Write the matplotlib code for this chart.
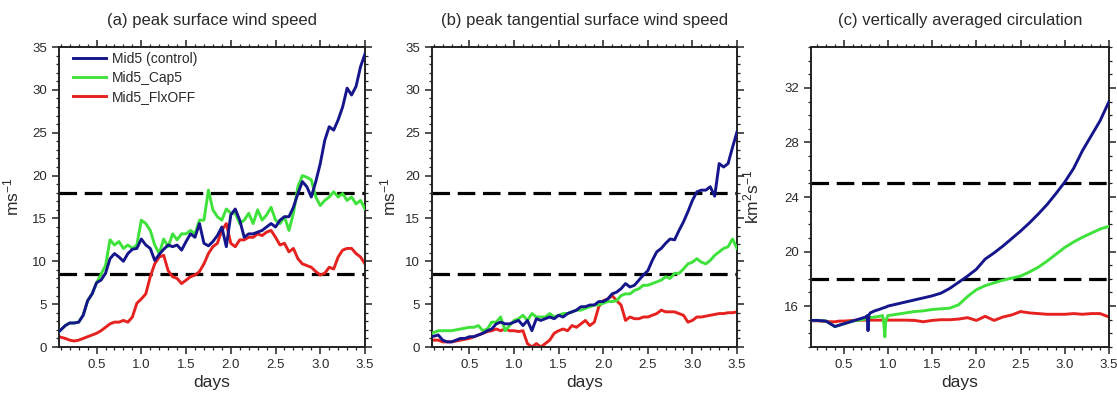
import matplotlib
matplotlib.use("Agg")
import matplotlib.pyplot as plt
from matplotlib.ticker import MultipleLocator, FormatStrFormatter

plt.rcParams['font.family'] = ['Liberation Sans', 'DejaVu Sans']
plt.rcParams['mathtext.fontset'] = 'custom'
plt.rcParams['mathtext.rm'] = 'Liberation Sans'
plt.rcParams['mathtext.it'] = 'Liberation Sans:italic'
plt.rcParams['mathtext.bf'] = 'Liberation Sans:bold'

# ---------------- data ----------------
days_ab = [0.08, 0.15, 0.2, 0.25, 0.3, 0.35, 0.4, 0.45, 0.5, 0.55, 0.6, 0.65, 0.7, 0.75,
           0.8, 0.85, 0.9, 0.95, 1.0, 1.05, 1.1, 1.15, 1.2, 1.25, 1.3, 1.35, 1.4, 1.45,
           1.5, 1.55, 1.6, 1.65, 1.7, 1.75, 1.8, 1.85, 1.9, 1.95, 2.0, 2.05, 2.1, 2.15,
           2.2, 2.25, 2.3, 2.35, 2.4, 2.45, 2.5, 2.55, 2.6, 2.65, 2.7, 2.75, 2.8, 2.85,
           2.9, 2.95, 3.0, 3.05, 3.1, 3.15, 3.2, 3.25, 3.3, 3.35, 3.4, 3.45, 3.5]

# (a) peak surface wind speed
a_control = [1.8, 2.5, 2.8, 2.8, 2.9, 3.7, 5.4, 6.2, 7.5, 7.8, 8.6, 10.3, 10.9, 10.5,
             10.0, 10.9, 11.4, 11.5, 12.6, 11.9, 11.5, 10.1, 10.8, 11.4, 11.9, 11.7, 11.9, 11.3,
             12.3, 13.2, 12.8, 14.4, 12.1, 11.8, 12.3, 13.0, 14.0, 11.7, 15.4, 16.1, 14.8, 12.8,
             13.2, 13.2, 13.4, 13.6, 14.0, 14.4, 14.0, 14.8, 15.2, 15.2, 16.3, 17.9, 19.3, 18.7,
             17.5, 19.3, 21.4, 24.1, 25.7, 25.3, 26.5, 28.0, 30.2, 29.4, 30.4, 32.7, 34.2]
a_cap5 = [1.8, 2.5, 2.8, 2.8, 2.9, 3.7, 5.4, 6.2, 7.5, 8.5, 9.5, 12.5, 11.9, 12.3,
          11.5, 11.9, 11.5, 11.9, 14.8, 14.4, 13.6, 11.9, 10.9, 12.6, 11.7, 13.2, 12.5, 13.2,
          13.2, 13.6, 13.2, 14.8, 14.8, 18.3, 16.0, 15.2, 14.8, 16.1, 15.6, 15.6, 14.4, 14.8,
          15.6, 14.4, 16.0, 14.8, 15.4, 16.3, 14.8, 14.4, 15.2, 13.6, 15.6, 18.7, 20.0, 19.8,
          19.5, 17.5, 16.5, 17.1, 17.5, 18.1, 17.5, 17.9, 17.1, 17.5, 16.7, 17.1, 16.1]
a_flxoff = [1.2, 1.0, 0.8, 0.7, 0.8, 1.0, 1.2, 1.4, 1.6, 1.9, 2.3, 2.7, 2.9, 2.9,
            3.1, 2.9, 3.5, 5.1, 5.6, 6.2, 8.2, 9.7, 10.5, 10.7, 8.9, 8.2, 8.0, 7.4,
            7.8, 8.2, 8.4, 8.8, 9.7, 10.9, 11.7, 12.1, 13.6, 14.4, 12.1, 11.7, 12.5, 12.5,
            12.8, 12.8, 13.2, 13.0, 13.4, 13.6, 12.8, 11.9, 12.1, 11.1, 11.5, 10.3, 9.7, 9.5,
            9.3, 8.8, 8.4, 8.6, 9.3, 9.1, 10.5, 11.3, 11.5, 11.5, 10.9, 10.5, 9.7]

# (b) peak tangential surface wind speed
b_control = [1.2, 1.4, 0.8, 0.6, 0.6, 0.8, 1.0, 1.0, 1.2, 1.2, 1.4, 1.6, 1.9, 2.1,
             2.7, 2.9, 2.7, 2.7, 2.9, 3.1, 2.5, 3.1, 1.9, 3.3, 3.1, 3.3, 3.5, 3.3,
             3.7, 3.5, 3.9, 4.1, 4.3, 4.7, 4.7, 4.9, 4.9, 5.3, 5.3, 5.6, 6.2, 6.4,
             6.8, 7.4, 7.0, 7.2, 7.8, 8.4, 8.9, 10.1, 11.1, 11.5, 12.1, 12.6, 12.5, 13.6,
             14.6, 15.8, 17.1, 18.1, 18.3, 18.3, 18.7, 17.6, 21.4, 21.0, 21.4, 23.3, 25.1]
b_cap5 = [1.6, 1.9, 1.9, 1.9, 1.9, 2.0, 2.1, 2.2, 2.3, 2.3, 2.5, 1.9, 2.1, 2.9,
          2.9, 3.5, 1.9, 2.5, 3.1, 3.3, 3.7, 3.1, 3.9, 3.5, 3.5, 3.5, 3.9, 3.5,
          3.7, 3.9, 3.9, 4.1, 4.3, 4.3, 4.5, 4.7, 4.9, 4.9, 5.1, 5.3, 5.3, 5.4,
          6.0, 6.2, 6.2, 6.6, 6.8, 7.2, 7.2, 7.4, 7.6, 7.8, 8.2, 8.0, 8.6, 8.6,
          9.1, 9.7, 9.9, 10.3, 9.9, 9.7, 10.1, 10.7, 11.1, 11.5, 11.7, 12.6, 11.5]
b_flxoff = [0.8, 0.8, 0.6, 0.6, 0.6, 0.7, 0.8, 0.9, 1.0, 1.2, 1.4, 1.6, 1.8, 1.9,
            2.1, 1.9, 2.1, 1.9, 1.9, 1.8, 1.9, 0.4, 0.0, 0.4, 0.0, 0.4, 0.8, 1.6,
            1.9, 2.1, 1.9, 2.5, 2.3, 2.7, 3.1, 2.5, 2.9, 4.7, 5.4, 5.6, 6.0, 5.4,
            4.9, 3.1, 3.5, 3.3, 3.3, 3.5, 3.5, 3.7, 3.9, 4.3, 4.1, 4.1, 4.1, 3.9,
            3.7, 2.9, 3.1, 3.5, 3.5, 3.6, 3.7, 3.8, 3.9, 3.9, 4.0, 4.0, 4.1]

# (c) vertically averaged circulation
days_c = [0.13, 0.2, 0.3, 0.35, 0.4, 0.45, 0.5, 0.55, 0.6, 0.65,
          0.7, 0.75, 0.765, 0.775, 0.785, 0.8, 0.85, 0.9, 0.94, 0.955,
          0.965, 0.975, 1.0, 1.1, 1.2, 1.3, 1.4, 1.5, 1.6, 1.7,
          1.8, 1.9, 2.0, 2.1, 2.2, 2.3, 2.4, 2.5, 2.6, 2.7,
          2.8, 2.9, 3.0, 3.1, 3.2, 3.3, 3.4, 3.5]
c_control = [14.95, 14.95, 14.9, 14.7, 14.5, 14.6, 14.7, 14.8, 14.9, 15.0,
             15.1, 15.2, 15.3, 14.2, 15.35, 15.5, 15.65, 15.75, 15.85, 15.88,
             15.9, 15.92, 16.0, 16.15, 16.3, 16.45, 16.6, 16.75, 16.95, 17.3,
             17.75, 18.2, 18.7, 19.45, 19.9, 20.4, 20.95, 21.5, 22.1, 22.75,
             23.45, 24.25, 25.1, 26.1, 27.4, 28.5, 29.6, 31.0]
c_cap5 = [14.95, 14.95, 14.9, 14.7, 14.5, 14.6, 14.7, 14.8, 14.9, 14.95,
          15.0, 15.05, 15.08, 15.1, 15.1, 15.15, 15.2, 15.25, 15.3, 14.6,
          13.75, 14.9, 15.3, 15.4, 15.5, 15.6, 15.65, 15.75, 15.8, 15.85,
          16.1, 16.7, 17.2, 17.5, 17.7, 17.9, 18.05, 18.2, 18.5, 18.85,
          19.3, 19.8, 20.3, 20.7, 21.05, 21.35, 21.65, 21.85]
c_flxoff = [14.92, 14.92, 14.88, 14.85, 14.85, 14.9, 14.9, 14.92, 14.95, 14.97,
            14.97, 14.97, 14.97, 14.97, 14.97, 14.97, 14.97, 14.97, 14.97, 14.97,
            14.97, 14.97, 14.97, 14.97, 14.97, 14.95, 14.85, 14.95, 15.0, 15.0,
            15.05, 15.15, 14.95, 15.25, 14.95, 15.2, 15.35, 15.6, 15.5, 15.45,
            15.4, 15.4, 15.4, 15.45, 15.4, 15.45, 15.45, 15.2]

labels = ["Mid5 (control)", "Mid5_Cap5", "Mid5_FlxOFF"]
titles = ["(a) peak surface wind speed", "(b) peak tangential surface wind speed",
          "(c) vertically averaged circulation"]
thresholds_ab = [18, 8.5]
thresholds_c = [25, 18]

# ---------------- style ----------------
W, H = 1117, 403
fig = plt.figure(figsize=(W / 100, H / 100), dpi=100)
col_ctl, col_cap, col_flx = '#15168c', '#3ee23a', '#e5221f'
txt = '#2a2a2a'

def px_axes(l, r, t, b):
    return fig.add_axes([l / W, 1 - b / H, (r - l) / W, (b - t) / H])

axa = px_axes(59, 365, 47, 347)
axb = px_axes(432, 737, 47, 347)
axc = px_axes(811, 1109, 47, 347)

def style(ax, xlo, ylim, ymaj, ymin):
    ax.set_xlim(xlo, 3.5)
    ax.set_ylim(*ylim)
    ax.xaxis.set_major_locator(MultipleLocator(0.5))
    ax.xaxis.set_minor_locator(MultipleLocator(0.1))
    ax.xaxis.set_major_formatter(FormatStrFormatter('%.1f'))
    ax.yaxis.set_major_locator(MultipleLocator(ymaj))
    ax.yaxis.set_minor_locator(MultipleLocator(ymin))
    ax.tick_params(which='both', direction='out', top=True, right=True,
                   colors='#222222', labelcolor=txt, labelsize=9.5)
    ax.tick_params(which='major', length=5, width=1.1)
    ax.tick_params(which='minor', length=2.5, width=0.9)
    for s in ax.spines.values():
        s.set_linewidth(1.4)
        s.set_color('#222222')
    ax.set_xlabel('days', fontsize=12.5, color=txt, labelpad=3)

def draw(ax, days, ctl, cap, flx, thr):
    for t in thr:
        ax.axhline(t, color='black', lw=2.3, dashes=(5.5, 2.4), zorder=1)
    hf, = ax.plot(days, flx, color=col_flx, lw=2.1, zorder=2)
    hc, = ax.plot(days, cap, color=col_cap, lw=2.1, zorder=3)
    hb, = ax.plot(days, ctl, color=col_ctl, lw=2.1, zorder=4)
    return hb, hc, hf

ha = draw(axa, days_ab, a_control, a_cap5, a_flxoff, thresholds_ab)
draw(axb, days_ab, b_control, b_cap5, b_flxoff, thresholds_ab)
draw(axc, days_c, c_control, c_cap5, c_flxoff, thresholds_c)

style(axa, 0.08, (0, 35), 5, 1)
style(axb, 0.08, (0, 35), 5, 1)
style(axc, 0.13, (13, 35), 4, 1)
axc.set_yticks([16, 20, 24, 28, 32])

axa.set_ylabel('ms$^{-1}$', fontsize=12.5, color=txt)
axb.set_ylabel('ms$^{-1}$', fontsize=12.5, color=txt)
axc.set_ylabel('km$^{2}$s$^{-1}$', fontsize=12.5, color=txt)
axa.yaxis.set_label_coords(-0.124, 0.5)
axb.yaxis.set_label_coords(-0.111, 0.5)
axc.yaxis.set_label_coords(-0.165, 0.5)

leg = axa.legend(ha, labels, loc='upper left', bbox_to_anchor=(0.045, 0.985),
                 frameon=False, fontsize=10, handlelength=2.4, handletextpad=0.4,
                 labelspacing=0.38, borderpad=0, borderaxespad=0)
for t in leg.get_texts():
    t.set_color(txt)

for ax, title in zip([axa, axb, axc], titles):
    bb = ax.get_position()
    fig.text(bb.x0 + bb.width / 2, 1 - 21 / H, title, ha='center', va='center',
             fontsize=12, color=txt)

fig.savefig('out.png', dpi=100)
